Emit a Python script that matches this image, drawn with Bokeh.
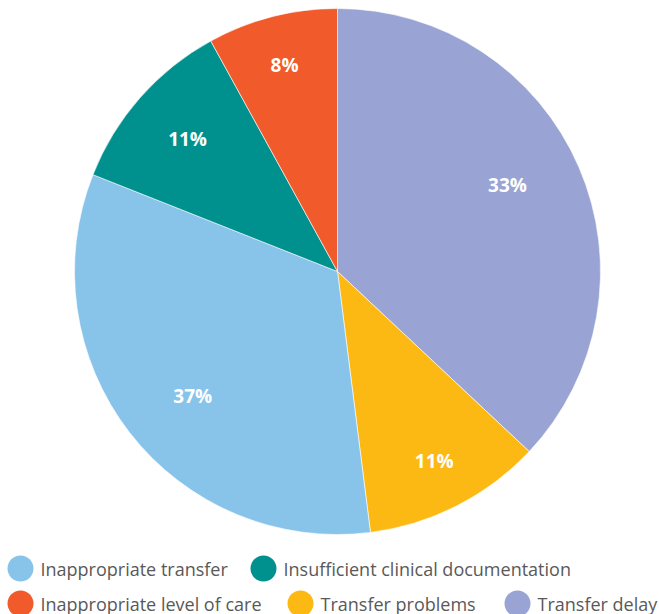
import math
from bokeh.plotting import figure
from bokeh.models import Range1d, ColumnDataSource
from bokeh.core.properties import value
from bokeh.embed import file_html
from bokeh.resources import INLINE

# Data (clockwise from 12 o'clock)
categories = ["Transfer delay", "Transfer problems", "Inappropriate transfer",
              "Insufficient clinical documentation", "Inappropriate level of care"]
slice_values = [37, 11, 33, 11, 8]
label_texts = ["33%", "11%", "37%", "11%", "8%"]
colors = ["#99A3D4", "#FDB913", "#88C3EA", "#00918E", "#F15A2B"]

# legend order (rows)
legend_rows = [["Inappropriate transfer", "Insufficient clinical documentation"],
               ["Inappropriate level of care", "Transfer problems", "Transfer delay"]]

# layout / style
W, H = 659, 614
cx, cy, R = 337, 614 - 271, 263
label_r = [0.725, 0.81, 0.725, 0.76, 0.81]
label_dang = [3.5, 0.0, 2.8, 0.0, 0.0]   # degrees, counter-clockwise shift
font = "Open Sans"

p = figure(width=W, height=H, x_range=Range1d(0, W), y_range=Range1d(0, H),
           output_backend="svg", toolbar_location=None, min_border=0)
p.axis.visible = False
p.grid.visible = False
p.outline_line_color = None
p.background_fill_color = "white"

total = sum(slice_values)
starts, ends, lx, ly = [], [], [], []
acc = 0
for v, rf, da in zip(slice_values, label_r, label_dang):
    a0 = math.pi / 2 - 2 * math.pi * acc / total
    acc += v
    a1 = math.pi / 2 - 2 * math.pi * acc / total
    starts.append(a0)
    ends.append(a1)
    mid = (a0 + a1) / 2 + math.radians(da)
    lx.append(cx + rf * R * math.cos(mid))
    ly.append(cy + rf * R * math.sin(mid))

src = ColumnDataSource(dict(start=starts, end=ends, color=colors, lx=lx, ly=ly, txt=label_texts,
                            x=[cx] * 5, y=[cy] * 5))
p.wedge(x="x", y="y", radius=R, start_angle="start", end_angle="end", direction="clock",
        fill_color="color", line_color="white", line_width=0.6, source=src)
p.text(x="lx", y="ly", text="txt", source=src, text_color="white", text_font=value(font),
       text_font_style="bold", text_font_size="19px", text_align="center", text_baseline="middle")

# legend drawn manually
color_of = dict(zip(categories, colors))
row_y = [614 - 568, 614 - 603]
row_x = [[20, 263], [20, 300, 517]]
lgx, lgy, lgc, ltx, lty, ltt = [], [], [], [], [], []
for names, xs, yy in zip(legend_rows, row_x, row_y):
    for n, xx in zip(names, xs):
        lgx.append(xx); lgy.append(yy); lgc.append(color_of[n])
        ltx.append(xx + 20); lty.append(yy); ltt.append(n)
p.scatter(x=lgx, y=lgy, size=26, fill_color=lgc, line_color=None, marker="circle")
p.text(x=ltx, y=lty, text=ltt, text_font=value(font), text_font_size="18px",
       text_color="#595959", text_baseline="middle", text_align="left")

open("out.html", "w").write(file_html(p, INLINE))
